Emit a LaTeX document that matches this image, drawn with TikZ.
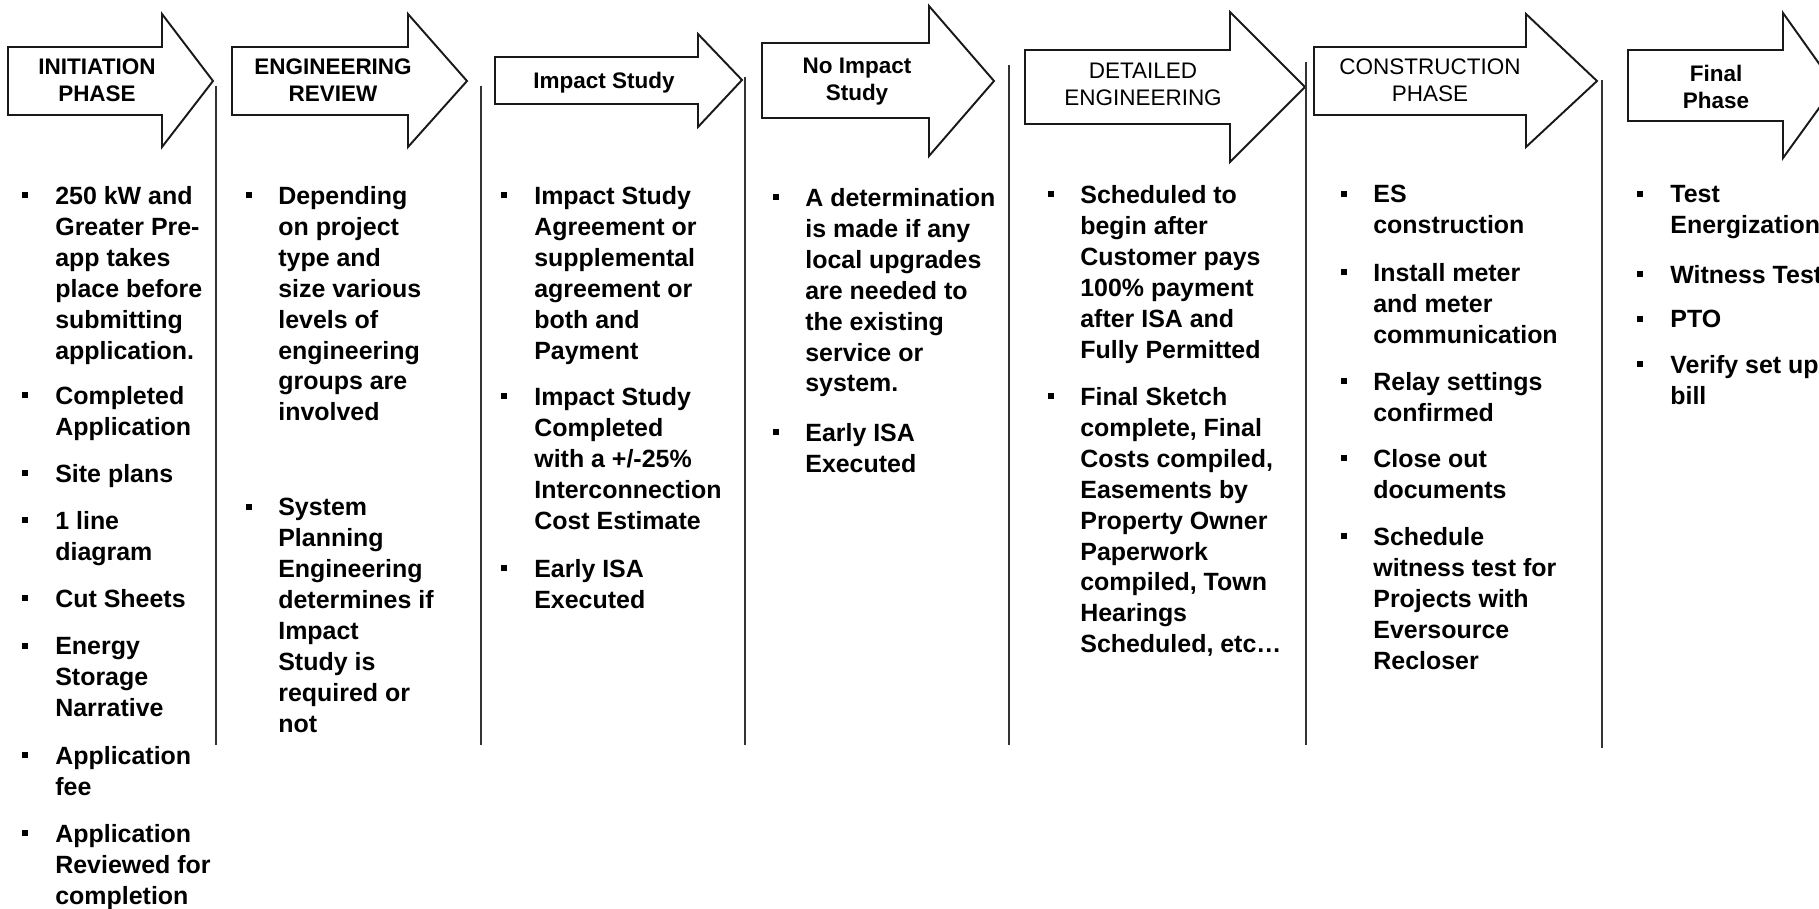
\documentclass[tikz,border=0pt]{standalone}
\usepackage{fontspec}
\setmainfont{Liberation Sans}

\begin{document}
\begin{tikzpicture}[x=0.02cm,y=-0.02cm,
		phase arrow/.style={draw=black!90,line width=1.1pt,fill=white},
		divider/.style={draw=black!80,line width=1.1pt},
		phase bold/.style={font=\fontsize{12.8}{15.4}\selectfont\bfseries,align=center,inner sep=0},
		phase plain/.style={font=\fontsize{12.8}{15.4}\selectfont,align=center,inner sep=0},
		bul/.style={fill=black,minimum size=0.13cm,inner sep=0},
		item/.style={font=\fontsize{14.2}{17.6}\selectfont\bfseries,align=left,anchor=north west,inner sep=0}]

		\useasboundingbox (0,0) rectangle (1819,909);
		\clip (0,0) rectangle (1819,909);

		% arrows along the top
		\draw[phase arrow] (8,47) -- (162,47) -- (162,14) -- (213,81) -- (162,147) -- (162,115) -- (8,115) -- cycle;
		\draw[phase arrow] (232,47) -- (408,47) -- (408,14) -- (467,81) -- (408,147) -- (408,115) -- (232,115) -- cycle;
		\draw[phase arrow] (495,57) -- (698,57) -- (698,34) -- (742,80) -- (698,127) -- (698,104) -- (495,104) -- cycle;
		\draw[phase arrow] (762,43) -- (929,43) -- (929,6) -- (994,81) -- (929,156) -- (929,118) -- (762,118) -- cycle;
		\draw[phase arrow] (1025,50) -- (1230,50) -- (1230,12) -- (1305,87) -- (1230,162) -- (1230,124) -- (1025,124) -- cycle;
		\draw[phase arrow] (1314,47) -- (1526,47) -- (1526,14) -- (1597,81) -- (1526,147) -- (1526,115) -- (1314,115) -- cycle;
		\draw[phase arrow] (1628,50) -- (1783,50) -- (1783,13) -- (1835,86) -- (1783,158) -- (1783,121) -- (1628,121) -- cycle;

		\node[phase bold] (initiation) at (97,80.5) {INITIATION\\PHASE};
		\node[phase bold] (review) at (333,80.5) {ENGINEERING\\REVIEW};
		\node[phase bold] (impact) at (604,83) {Impact Study};
		\node[phase bold] (noimpact) at (857,81.5) {No Impact\\Study};
		\node[phase plain] (detailed) at (1143,84) {DETAILED\\ENGINEERING};
		\node[phase plain] (construction) at (1430,80.5) {CONSTRUCTION\\PHASE};
		\node[phase bold] (final) at (1716,86.5) {Final\\Phase};

		% column dividers
		\draw[divider] (216,86) -- (216,745);
		\draw[divider] (481,86) -- (481,745);
		\draw[divider] (745,77) -- (745,745);
		\draw[divider] (1009,65) -- (1009,745);
		\draw[divider] (1306,62) -- (1306,745);
		\draw[divider] (1602,80) -- (1602,748);

		% initiation
		\node[bul] (b1a) at (25,195) {};
		\node[item] (t1a) at (55,186) {250 kW and\\Greater Pre-\\app takes\\place before\\submitting\\application.};
		\node[bul] (b1b) at (25,395) {};
		\node[item] (t1b) at (55,386) {Completed\\Application};
		\node[bul] (b1c) at (25,473) {};
		\node[item] (t1c) at (55,464) {Site plans};
		\node[bul] (b1d) at (25,520) {};
		\node[item] (t1d) at (55,511) {1 line\\diagram};
		\node[bul] (b1e) at (25,598) {};
		\node[item] (t1e) at (55,589) {Cut Sheets};
		\node[bul] (b1f) at (25,646) {};
		\node[item] (t1f) at (55,637) {Energy\\Storage\\Narrative};
		\node[bul] (b1g) at (25,755) {};
		\node[item] (t1g) at (55,746) {Application\\fee};
		\node[bul] (b1h) at (25,833) {};
		\node[item] (t1h) at (55,824) {Application\\Reviewed for\\completion};

		% engineering review
		\node[bul] (b2a) at (249,195) {};
		\node[item] (t2a) at (278,186) {Depending\\on project\\type and\\size various\\levels of\\engineering\\groups are\\involved};
		\node[bul] (b2b) at (249,507) {};
		\node[item] (t2b) at (278,498) {System\\Planning\\Engineering\\determines if\\Impact\\Study is\\required or\\not};

		% impact study
		\node[bul] (b3a) at (504,195) {};
		\node[item] (t3a) at (534,186) {Impact Study\\Agreement or\\supplemental\\agreement or\\both and\\Payment};
		\node[bul] (b3b) at (504,396) {};
		\node[item] (t3b) at (534,387) {Impact Study\\Completed\\with a +/-25\%\\Interconnection\\Cost Estimate};
		\node[bul] (b3c) at (504,568) {};
		\node[item] (t3c) at (534,559) {Early ISA\\Executed};

		% no impact study
		\node[bul] (b4a) at (776,197) {};
		\node[item] (t4a) at (805,188) {A determination\\is made if any\\local upgrades\\are needed to\\the existing\\service or\\system.};
		\node[bul] (b4b) at (776,432) {};
		\node[item] (t4b) at (805,423) {Early ISA\\Executed};

		% detailed engineering
		\node[bul] (b5a) at (1051,194) {};
		\node[item] (t5a) at (1080,185) {Scheduled to\\begin after\\Customer pays\\100\% payment\\after ISA and\\Fully Permitted};
		\node[bul] (b5b) at (1051,396) {};
		\node[item] (t5b) at (1080,387) {Final Sketch\\complete, Final\\Costs compiled,\\Easements by\\Property Owner\\Paperwork\\compiled, Town\\Hearings\\Scheduled, etc…};

		% construction
		\node[bul] (b6a) at (1344,194) {};
		\node[item] (t6a) at (1373,185) {ES\\construction};
		\node[bul] (b6b) at (1344,272) {};
		\node[item] (t6b) at (1373,263) {Install meter\\and meter\\communication};
		\node[bul] (b6c) at (1344,381) {};
		\node[item] (t6c) at (1373,372) {Relay settings\\confirmed};
		\node[bul] (b6d) at (1344,458) {};
		\node[item] (t6d) at (1373,449) {Close out\\documents};
		\node[bul] (b6e) at (1344,536) {};
		\node[item] (t6e) at (1373,527) {Schedule\\witness test for\\Projects with\\Eversource\\Recloser};

		% final
		\node[bul] (b7a) at (1640,194) {};
		\node[item] (t7a) at (1670,185) {Test\\Energization};
		\node[bul] (b7b) at (1640,274) {};
		\node[item] (t7b) at (1670,265) {Witness Test};
		\node[bul] (b7c) at (1640,319) {};
		\node[item] (t7c) at (1670,310) {PTO};
		\node[bul] (b7d) at (1640,364) {};
		\node[item] (t7d) at (1670,355) {Verify set up\\bill};
\end{tikzpicture}
\end{document}
